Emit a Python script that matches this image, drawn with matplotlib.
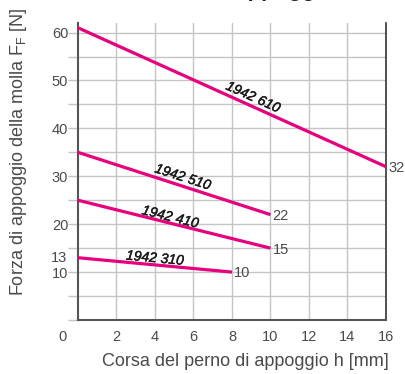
import numpy as np
import matplotlib
matplotlib.use("Agg")
import matplotlib.pyplot as plt
import matplotlib.patheffects as pe

# Data
series_names = ["1942 610", "1942 510", "1942 410", "1942 310"]
x_start = [0, 0, 0, 0]
x_end = [16, 10, 10, 8]
f_start = [61, 35, 25, 13]
f_end = [32, 22, 15, 10]
end_labels = ["32", "22", "15", "10"]
# label anchor positions (x along the line, offset above)
label_x = [9.1, 5.45, 4.8, 4.0]
label_off = [2.0, 1.9, 1.3, 1.4]

x_ticks = [2, 4, 6, 8, 10, 12, 14, 16]
y_labels = [10, 20, 30, 40, 50, 60]

plt.rcParams['font.family'] = ['Liberation Sans', 'DejaVu Sans']

fig = plt.figure(figsize=(4.06, 3.74), dpi=100)
ax = fig.add_axes([78/406, 54/374, (386-78)/406, (320-23)/374])

magenta = "#E6007E"
grey_text = "#4a4a4a"

ax.set_xlim(0, 16)
ax.set_ylim(0, 62)

# grid
ax.set_xticks(x_ticks)
ax.set_xticklabels([str(v) for v in x_ticks])
ax.set_yticks(np.arange(0, 61, 5))
ax.set_yticklabels([str(v) if v in y_labels else "" for v in np.arange(0, 61, 5)])
ax.grid(True, color="#c4c4c4", linewidth=1.0)
ax.set_axisbelow(True)
ax.tick_params(axis='x', length=0, pad=7, labelsize=10.5, labelcolor=grey_text)
ax.tick_params(axis='y', length=7, width=1.0, color="#c4c4c4", pad=0, labelsize=10.5, labelcolor=grey_text)

for s in ['left', 'bottom']:
    ax.spines[s].set_color("#555555")
    ax.spines[s].set_linewidth(1.5)
ax.spines['right'].set_color("#333333")
ax.spines['right'].set_linewidth(1.2)
ax.spines['top'].set_visible(False)

# extra labels
ax.annotate("13", xy=(0, 13), xycoords='data', xytext=(-7.5, 0), textcoords='offset points',
            ha='right', va='center', fontsize=10.5, color=grey_text, annotation_clip=False)
ax.annotate("0", xy=(0, 0), xycoords='data', xytext=(-11, -7), textcoords='offset points',
            ha='center', va='top', fontsize=10.5, color=grey_text, annotation_clip=False)

for name, x0, x1, y0, y1, el, lx, lo in zip(series_names, x_start, x_end, f_start, f_end,
                                            end_labels, label_x, label_off):
    ax.plot([x0, x1], [y0, y1], color=magenta, linewidth=2.3, solid_capstyle='butt',
            clip_on=False, zorder=3)
    slope = (y1 - y0) / (x1 - x0)
    ly = y0 + slope * (lx - x0) + lo
    ang = np.degrees(np.arctan2(y1 - y0, x1 - x0))
    ax.text(lx, ly, name, rotation=ang, transform_rotates_text=True,
            rotation_mode='anchor', ha='center', va='center',
            fontsize=10, style='italic', color="#1a1a1a", zorder=4,
            path_effects=[pe.withStroke(linewidth=0.3, foreground="#1a1a1a")])
    ax.annotate(el, xy=(x1, y1), xytext=(1.5, -1), textcoords='offset points',
                ha='left', va='center', fontsize=10.5, color=grey_text,
                annotation_clip=False)

ax.set_xlabel("Corsa del perno di appoggio h [mm]", fontsize=13, color=grey_text)
ax.xaxis.set_label_coords(0.545, -0.11)
ax.set_ylabel("Forza di appoggio della molla F$_\\mathregular{F}$ [N]", fontsize=13,
              color=grey_text)
ax.yaxis.set_label_coords(-0.16, 0.566)

fig.text(0.59, 1.012, "Forza di appoggio", ha='center', va='baseline', fontsize=16,
         fontweight='bold', color="#222222")

fig.savefig("out.png", dpi=100)
